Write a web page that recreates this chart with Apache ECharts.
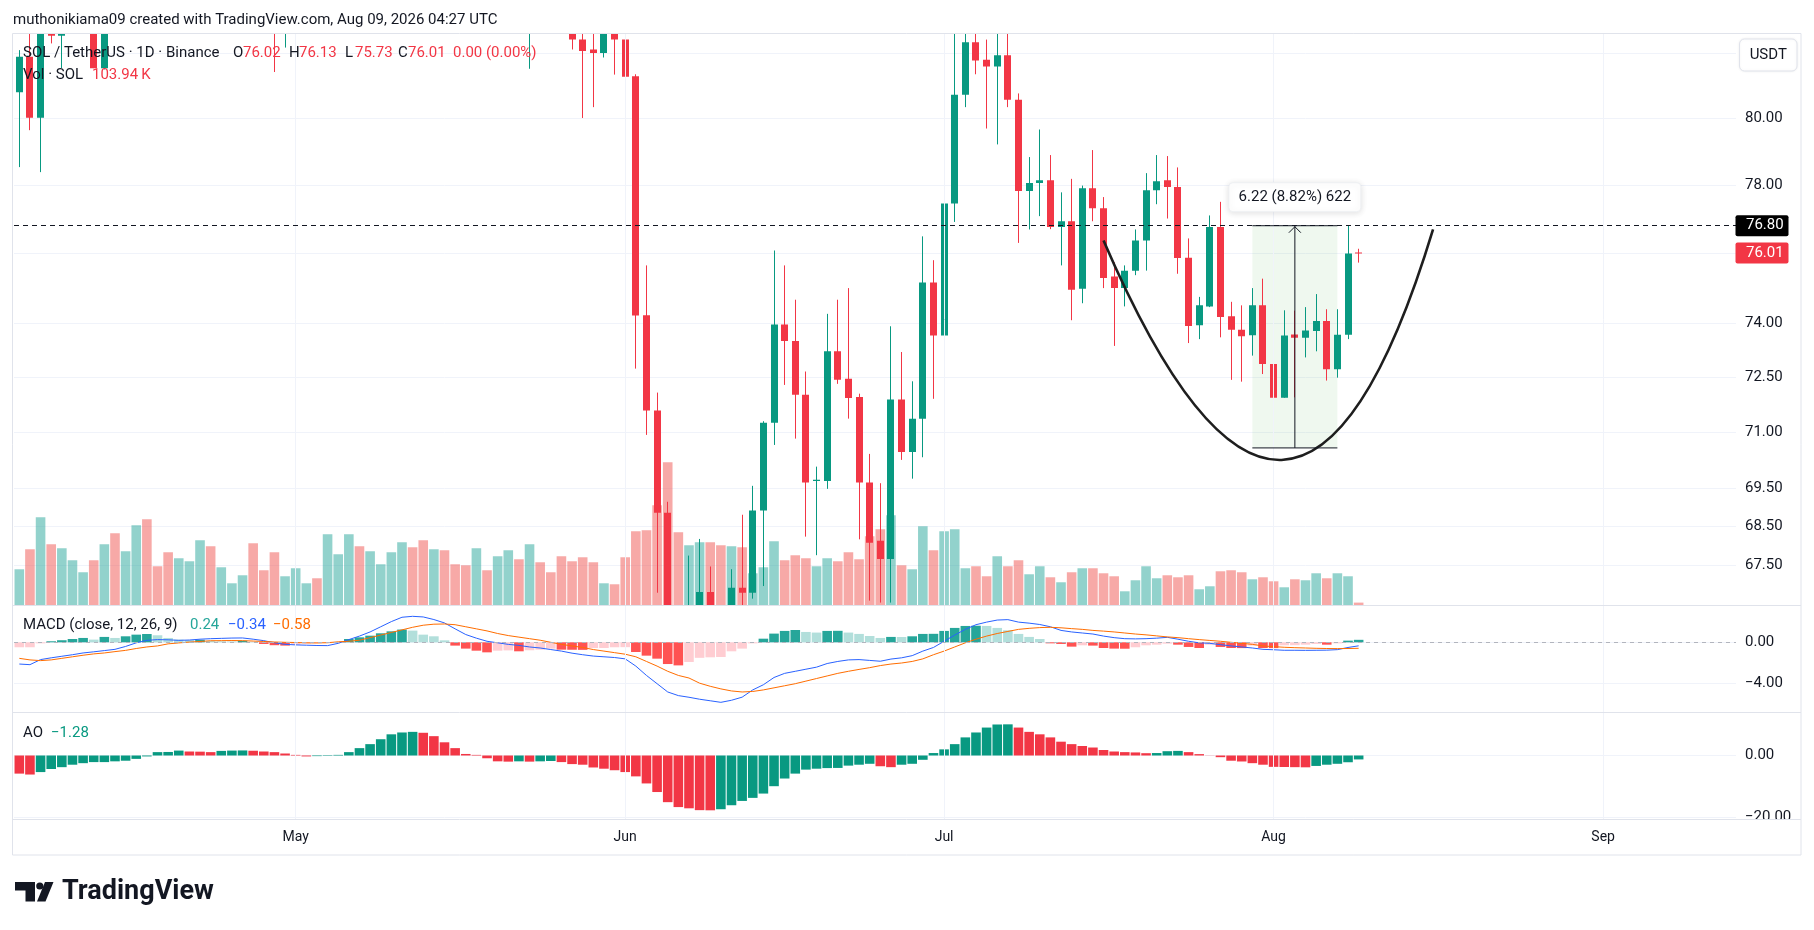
<!DOCTYPE html>
<html><head><meta charset="utf-8">
<script src="https://cdn.jsdelivr.net/npm/echarts@6/dist/echarts.min.js"></script>
<style>html,body{margin:0;padding:0;background:#fff}#c{width:1814px;height:930px}</style>
</head><body><div id="c"></div>
<script>
const FONT = 'Roboto, "Liberation Sans", sans-serif';
const TEXT = '#131722';
const UP = '#089981', DOWN = '#F23645';

// ---- axis: daily categories (Apr 5 .. Sep 13, 2026) ----
const firstDay = [2026, 3, 5];
const dayCount = 162;
const monthAbbr = ['Jan','Feb','Mar','Apr','May','Jun','Jul','Aug','Sep','Oct','Nov','Dec'];
const monthStarts = ['2026-05-01','2026-06-01','2026-07-01','2026-08-01','2026-09-01'];
const priceTicks = [82, 80, 78, 76, 74, 72.5, 71, 69.5, 68.5, 67.5];
const macdTicks = [0, -4];
const aoTicks = [0, -20];

// ---- SOL/USDT daily candles (Apr 5 .. Aug 9) ----
const openP = [80.80,81.89,80.02,83.20,82.55,83.60,84.30,84.90,81.54,83.40,
83.00,84.00,85.60,84.70,84.10,83.30,84.20,85.10,86.80,85.90,
86.50,87.00,87.70,86.10,85.20,84.00,85.00,86.20,86.80,86.30,
88.60,89.50,91.20,90.00,90.80,91.50,92.40,93.60,92.20,90.40,
91.00,89.60,88.70,87.90,88.80,87.60,88.30,89.00,87.40,87.90,
86.40,85.00,83.40,82.43,82.12,82.01,82.70,82.43,81.29,74.23,
71.59,68.86,65.90,65.20,65.90,66.82,66.20,65.70,66.93,66.80,
68.92,71.26,73.97,73.51,72.02,69.70,69.70,73.22,72.46,71.96,
69.66,68.13,67.66,71.89,70.47,71.37,75.16,73.66,77.45,80.72,
82.35,81.80,81.59,81.94,80.57,77.82,78.06,78.14,76.76,76.93,
74.98,77.90,77.31,75.33,75.00,75.50,76.37,77.84,78.14,77.94,
75.87,73.95,74.48,76.76,74.20,73.82,73.67,74.51,72.87,71.94,
73.69,73.60,73.79,74.07,72.72,73.68,76.02];
const highP = [82.10,83.40,83.80,83.90,84.00,84.80,85.40,85.20,83.90,84.10,
84.40,86.00,86.30,85.00,84.50,84.60,85.50,87.20,87.30,86.90,
87.40,88.10,88.00,86.40,85.60,85.30,86.60,87.10,87.20,89.00,
90.10,91.80,91.60,91.30,92.00,92.90,94.20,94.00,92.60,91.50,
91.30,90.00,89.10,89.20,89.10,88.70,89.40,89.30,88.30,88.20,
86.70,85.30,83.60,82.90,82.80,82.90,83.00,82.90,81.35,75.65,
72.08,69.15,66.35,67.75,68.18,67.47,66.45,67.40,68.81,69.57,
71.30,76.08,75.65,74.67,72.66,70.08,74.27,74.67,75.00,72.05,
70.42,69.64,73.92,73.20,72.39,76.49,75.80,78.93,82.90,82.90,
82.90,82.43,82.90,82.90,80.76,78.83,79.66,78.89,77.78,78.18,
77.98,79.04,77.64,75.74,75.65,76.69,78.35,78.89,78.86,78.52,
76.43,74.75,77.10,77.50,74.61,74.51,75.00,75.27,73.20,74.37,
74.36,74.46,74.83,74.40,74.40,76.80,76.13];
const lowP = [78.53,79.64,78.38,82.31,81.54,83.10,83.90,81.54,81.50,82.70,
82.80,83.70,84.30,83.80,82.90,83.00,83.90,84.90,85.50,85.60,
86.10,86.70,85.80,84.80,81.42,82.18,84.60,85.90,85.90,86.10,
88.10,89.20,89.60,89.70,90.40,91.10,92.00,91.80,90.00,90.00,
89.20,88.20,87.40,87.60,87.20,87.30,88.00,87.00,81.52,86.00,
84.60,83.00,82.12,80.01,80.34,81.87,81.34,79.11,72.74,70.93,
66.80,65.40,64.70,64.90,65.50,65.70,65.20,65.40,66.30,66.65,
66.97,70.66,72.29,70.83,68.24,67.76,69.49,72.32,71.37,68.17,
66.60,66.55,66.55,70.26,69.76,70.33,71.91,72.26,76.91,80.34,
81.35,79.69,79.21,80.34,76.30,76.69,77.08,76.70,75.65,74.09,
74.57,76.93,75.00,73.37,74.48,75.37,75.50,77.43,77.01,75.41,
73.45,73.56,74.46,73.61,72.43,72.38,73.10,72.59,70.58,71.94,
71.95,73.05,73.22,72.41,72.49,73.56,75.73];
const closeP = [81.89,80.02,83.20,82.55,83.60,84.30,84.90,81.54,83.40,83.00,
84.00,85.60,84.70,84.10,83.30,84.20,85.10,86.80,85.90,86.50,
87.00,87.70,86.10,85.20,84.00,85.00,86.20,86.80,86.30,88.60,
89.50,91.20,90.00,90.80,91.50,92.40,93.60,92.20,90.40,91.00,
89.60,88.70,87.90,88.80,87.60,88.30,89.00,87.40,87.90,86.40,
85.00,83.40,82.43,82.07,82.01,82.70,82.43,81.27,74.22,71.59,
68.86,65.90,65.20,65.90,66.82,66.20,65.70,66.93,66.80,68.92,
71.26,73.97,73.51,72.02,69.66,69.73,73.22,72.43,71.93,69.66,
68.08,67.66,71.89,70.47,71.37,75.16,73.66,77.45,80.72,82.35,
81.78,81.59,81.94,80.57,77.82,78.06,78.14,76.76,76.93,74.95,
77.90,77.31,75.29,75.00,75.50,76.37,77.84,78.11,77.94,75.86,
73.93,74.51,76.76,74.18,73.82,73.64,74.51,72.87,71.94,73.66,
73.60,73.80,74.07,72.72,73.68,75.99,76.01];
// volume, thousands of SOL
const volumeK = [1386,2156,3388,2349,2195,1733,1271,1733,2349,2772,
2079,3080,3311,1502,2041,1810,1694,2503,2272,1463,
847,1155,2387,1348,2041,1117,1425,847,1040,2734,
1964,2734,2272,2079,1579,2041,2426,2233,2503,2156,
2118,1579,1540,2195,1348,1887,2118,1771,2349,1656,
1271,1887,1694,1848,1656,847,809,1848,2849,2888,
3850,5506,2811,2310,2426,2426,2310,2272,2233,1232,
1463,2464,1733,1925,1810,1502,1810,1694,2041,1771,
2657,2926,3465,1540,1386,3042,2118,2849,2926,1425,
1502,1117,1887,1502,1733,1194,1502,1078,886,1271,
1425,1425,1232,1117,539,963,1502,1040,1155,1078,
1155,616,732,1309,1348,1271,1001,1078,924,693,
1001,963,1232,1040,1232,1117,103.94];
// MACD (close, 12, 26, 9)
const macdLine = [-2.10,-2.16,-1.67,-1.50,-1.35,-1.20,-1.03,-0.92,-0.80,-0.68,
-0.40,-0.05,0.19,0.26,0.24,0.19,0.22,0.30,0.35,0.38,
0.41,0.42,0.30,0.16,-0.05,-0.20,-0.25,-0.28,-0.31,-0.32,
-0.10,0.26,0.60,1.00,1.50,2.00,2.42,2.51,2.45,2.20,
1.87,1.30,0.75,0.40,0.10,-0.05,-0.20,-0.30,-0.45,-0.55,
-0.70,-0.85,-1.05,-1.20,-1.33,-1.40,-1.47,-1.60,-2.30,-3.20,
-4.00,-4.80,-5.15,-5.31,-5.50,-5.65,-5.80,-5.60,-5.30,-4.60,
-4.10,-3.40,-3.00,-2.80,-2.60,-2.40,-2.05,-1.85,-1.70,-1.67,
-1.75,-1.83,-1.62,-1.50,-1.29,-0.85,-0.50,0.10,0.70,1.25,
1.70,1.95,2.15,2.19,1.95,1.85,1.72,1.50,1.15,1.00,
0.90,0.80,0.60,0.45,0.35,0.33,0.35,0.40,0.48,0.30,
0.10,-0.05,-0.10,-0.23,-0.35,-0.45,-0.55,-0.68,-0.72,-0.77,
-0.77,-0.78,-0.77,-0.76,-0.71,-0.50,-0.34];
const signalLine = [-1.55,-1.70,-1.77,-1.70,-1.55,-1.40,-1.25,-1.12,-1.03,-0.90,
-0.78,-0.60,-0.45,-0.35,-0.15,-0.06,0.02,0.08,0.15,0.16,
0.17,0.16,0.12,0.08,0.03,0.00,-0.02,-0.05,-0.06,-0.04,
0.05,0.10,0.20,0.45,0.70,0.95,1.20,1.45,1.65,1.75,
1.77,1.70,1.50,1.30,1.10,0.85,0.65,0.50,0.35,0.20,
0.00,-0.20,-0.35,-0.50,-0.70,-0.85,-1.00,-1.15,-1.40,-1.85,
-2.30,-2.80,-3.20,-3.45,-3.95,-4.25,-4.50,-4.70,-4.80,-4.75,
-4.60,-4.40,-4.20,-4.00,-3.75,-3.50,-3.25,-3.00,-2.80,-2.62,
-2.45,-2.25,-2.10,-2.00,-1.85,-1.60,-1.20,-0.85,-0.45,-0.05,
0.30,0.60,0.85,1.05,1.25,1.35,1.42,1.45,1.40,1.32,
1.25,1.15,1.08,1.00,0.90,0.80,0.72,0.62,0.52,0.45,
0.35,0.26,0.18,0.10,0.00,-0.10,-0.20,-0.35,-0.42,-0.48,
-0.52,-0.55,-0.58,-0.60,-0.61,-0.60,-0.58];
const macdHist = [-0.48,-0.48,-0.10,0.10,0.20,0.32,0.42,0.26,0.52,0.42,
0.58,0.74,0.80,0.68,0.42,0.26,0.22,0.24,0.14,0.10,
0.08,0.15,0.05,-0.16,-0.28,-0.32,-0.23,-0.13,-0.10,-0.08,
-0.02,0.32,0.48,0.64,0.87,1.06,1.23,1.13,0.74,0.58,
0.19,-0.32,-0.61,-0.81,-0.97,-0.81,-0.78,-0.87,-0.77,-0.71,
-0.61,-0.71,-0.72,-0.73,-0.55,-0.55,-0.48,-0.47,-0.94,-1.29,
-1.58,-2.10,-2.23,-1.90,-1.50,-1.45,-1.42,-0.87,-0.61,-0.10,
0.35,0.84,1.10,1.19,1.00,0.94,1.10,1.11,0.94,0.81,
0.61,0.42,0.52,0.51,0.58,0.81,0.82,1.10,1.39,1.58,
1.60,1.58,1.39,1.16,0.81,0.52,0.32,-0.10,-0.16,-0.42,
-0.29,-0.32,-0.55,-0.61,-0.62,-0.48,-0.29,-0.23,-0.13,-0.23,
-0.45,-0.55,-0.23,-0.45,-0.55,-0.56,-0.32,-0.55,-0.56,-0.29,
-0.28,-0.23,-0.16,-0.23,-0.10,0.16,0.24];
// Awesome Oscillator
const aoValues = [-5.9,-6.2,-5.4,-4.4,-3.8,-3.0,-2.5,-2.15,-2.15,-1.9,
-1.7,-1.1,-0.3,1.1,1.15,1.6,1.3,1.25,1.1,1.5,
1.6,1.65,1.55,1.3,1.1,0.65,0.2,-0.3,-0.2,-0.15,
0.2,1.1,2.4,3.7,5.3,6.9,7.5,7.7,7.4,6.3,
4.3,2.4,0.5,0.2,-0.9,-1.9,-2.0,-1.9,-2.0,-1.9,
-1.8,-2.15,-2.8,-3.0,-3.9,-4.3,-4.8,-5.4,-6.8,-9.1,
-11.9,-15.2,-16.8,-17.2,-17.8,-17.85,-17.5,-16.2,-14.8,-13.8,
-12.4,-10.0,-7.5,-5.9,-4.6,-4.3,-4.1,-4.05,-3.3,-3.0,
-2.7,-3.5,-3.8,-3.0,-2.7,-1.4,0.8,2.0,3.7,5.9,
7.5,9.1,10.1,10.15,9.1,7.7,6.9,5.9,4.5,3.7,
3.1,2.6,1.8,1.3,1.1,1.0,0.75,0.8,1.4,1.5,
1.1,0.45,-0.05,-0.55,-1.7,-1.95,-2.5,-3.0,-3.7,-3.75,
-3.8,-3.85,-3.4,-3.0,-2.7,-2.2,-1.28];

// ---- drawings ----
const hLineLevel = 76.80;
const rangeTool = {from:'2026-07-30', to:'2026-08-07', mid:'2026-08-03', low:70.58, high:76.80, label:'6.22 (8.82%) 622'};
const cupCurve = {start:['2026-07-16', 76.37], control:['2026-08-03', 64.5], end:['2026-08-16', 76.69]};

// ---- build ----
const dates = [];
for (let i = 0; i < dayCount; i++) {
  const d = new Date(Date.UTC(firstDay[0], firstDay[1], firstDay[2] + i));
  dates.push(d.toISOString().slice(0, 10));
}
const ln = Math.log;
const candleData = openP.map((o, i) => [i, ln(o), ln(closeP[i]), ln(lowP[i]), ln(highP[i])]);
const volData = volumeK.map((v, i) => ({value: v, itemStyle: {color: closeP[i] >= openP[i] ? 'rgba(38,166,154,0.5)' : 'rgba(239,83,80,0.5)'}}));
const histData = macdHist.map((v, i) => {
  const p = i > 0 ? macdHist[i - 1] : undefined;
  let c;
  if (v >= 0) c = (p !== undefined && v > p) ? '#26A69A' : '#B2DFDB';
  else c = (p !== undefined && v < p) ? '#FF5252' : '#FFCDD2';
  return {value: v, itemStyle: {color: c}};
});
const aoData = aoValues.map((v, i) => ({value: v, itemStyle: {color: (i > 0 && v >= aoValues[i - 1]) ? UP : DOWN}}));

const fmtNum = v => (v < -1e-9 ? '\u2212' : '') + Math.abs(v).toFixed(2);
const GRIDC = '#f0f3fa';
const vLines = {symbol: ['none', 'none'], silent: true, label: {show: false}, animation: false,
  lineStyle: {color: GRIDC, width: 1, type: 'solid'}, data: monthStarts.map(m => ({xAxis: m}))};

// candle drawn from open/close/low/high through the axis scales; clipped to the pane
function renderCandle(params, api) {
  const i = api.value(0);
  const o = api.value(1), c = api.value(2), lo = api.value(3), hi = api.value(4);
  const pO = api.coord([i, o]), pC = api.coord([i, c]), pL = api.coord([i, lo]), pH = api.coord([i, hi]);
  const color = c >= o ? UP : DOWN;
  const bx = Math.round(pO[0] - 3.5);
  const cx = bx + 3.5;
  const top = Math.min(pO[1], pC[1]);
  const h = Math.max(Math.abs(pO[1] - pC[1]), 1);
  return {type: 'group', children: [
    {type: 'line', shape: {x1: cx, y1: pH[1], x2: cx, y2: pL[1]}, style: {stroke: color, lineWidth: 1}},
    {type: 'rect', shape: {x: bx, y: top, width: 7, height: h}, style: {fill: color}}
  ]};
}

const L = 14, R = 78;
const xBase = (gi, showLabel) => ({
  type: 'category', gridIndex: gi, data: dates, boundaryGap: true,
  axisLine: {show: false}, axisTick: {show: false}, splitLine: {show: false},
  axisLabel: showLabel ? {show: true, interval: (i, v) => v.slice(8) === '01',
    formatter: v => monthAbbr[+v.slice(5, 7) - 1], color: TEXT, fontSize: 14, fontFamily: FONT, margin: 11} : {show: false}
});
const yRight = (gi, min, max, ticks, fmt) => ({
  type: 'value', gridIndex: gi, position: 'right', min, max, scale: true,
  axisLine: {show: false},
  axisTick: {show: false, customValues: ticks},
  axisLabel: {show: true, customValues: ticks, formatter: fmt, color: TEXT, fontSize: 15, fontFamily: FONT, margin: 9},
  splitLine: {show: true, lineStyle: {color: GRIDC, width: 1}}
});

const option = {
  animation: false,
  backgroundColor: '#ffffff',
  textStyle: {fontFamily: FONT},
  grid: [
    {left: L, right: R, top: 33.5, height: 571.8, outerBoundsMode: 'none'},
    {left: L, right: R, top: 605.3, height: 107, outerBoundsMode: 'none'},
    {left: L, right: R, top: 712.3, height: 107, outerBoundsMode: 'none'}
  ],
  xAxis: [xBase(0, false), xBase(1, false), xBase(2, true)],
  yAxis: [
    yRight(0, 4.19693, 4.41426, priceTicks.map(ln), v => Math.exp(v).toFixed(2)),
    {type: 'value', gridIndex: 0, min: 0, max: 22000, show: false, splitLine: {show: false}},
    yRight(1, -6.763, 3.575, macdTicks, fmtNum),
    yRight(2, -20.78, 14.07, aoTicks, fmtNum)
  ],
  series: [
    {type: 'bar', name: 'Volume', xAxisIndex: 0, yAxisIndex: 1, data: volData, barWidth: 9.6, z: 1,
     markLine: vLines},
    {type: 'custom', name: 'SOLUSDT', xAxisIndex: 0, yAxisIndex: 0, data: candleData, clip: true, z: 3,
     renderItem: renderCandle, encode: {x: 0, y: [1, 2, 3, 4]}, silent: true,
     markLine: {symbol: ['none', 'none'], silent: true, label: {show: false}, animation: false, precision: 10,
       lineStyle: {color: TEXT, width: 1, type: [5, 4]}, data: [{yAxis: ln(hLineLevel)}]}},
    {type: 'bar', name: 'Histogram', xAxisIndex: 1, yAxisIndex: 2, data: histData, barWidth: 9.6, z: 2,
     markLine: {symbol: ['none', 'none'], silent: true, label: {show: false}, animation: false,
       data: monthStarts.map(m => ({xAxis: m, lineStyle: {color: GRIDC, width: 1, type: 'solid'}}))
         .concat([{yAxis: 0, lineStyle: {color: '#b2b5be', width: 1, type: [4, 4]}}])}},
    {type: 'line', name: 'MACD', xAxisIndex: 1, yAxisIndex: 2, data: macdLine, showSymbol: false, z: 4,
     lineStyle: {color: '#2962FF', width: 1}},
    {type: 'line', name: 'Signal', xAxisIndex: 1, yAxisIndex: 2, data: signalLine, showSymbol: false, z: 4,
     lineStyle: {color: '#FF6D00', width: 1}},
    {type: 'bar', name: 'AO', xAxisIndex: 2, yAxisIndex: 3, data: aoData, barWidth: 9.6, z: 2,
     markLine: vLines}
  ]
};

const chart = echarts.init(document.getElementById('c'), null, {renderer: 'canvas'});
chart.setOption(option);

// ---- overlay drawings positioned through the chart's own scales ----
const P = (cat, price) => chart.convertToPixel({xAxisIndex: 0, yAxisIndex: 0}, [cat, ln(price)]);
const txt = (x, y, text, fill, size, weight, align) => ({
  type: 'text', x, y, z: 100, silent: true,
  style: {text, fill, font: `${weight || 'normal'} ${size || 15}px ${FONT}`, align: align || 'left', textAlign: align || 'left', verticalAlign: 'middle', textVerticalAlign: 'middle'}
});
const line = (x1, y1, x2, y2, stroke, w, z) => ({type: 'line', z: z || 100, silent: true, shape: {x1, y1, x2, y2}, style: {stroke, lineWidth: w || 1}});

const g = [];
// header
g.push(txt(13, 20, 'muthonikiama09 created with TradingView.com, Aug 09, 2026 04:27 UTC', TEXT, 15));
// frame and pane separators
const FR = '#e0e3eb';
g.push({type: 'rect', z: 90, silent: true, shape: {x: 12.5, y: 33.5, width: 1788.5, height: 821.5}, style: {fill: 'none', stroke: FR, lineWidth: 1}});
[605.5, 712.5, 819.5].forEach(y => g.push(line(12.5, y, 1801, y, FR, 1, 90)));

// range tool
const rTopL = P(rangeTool.from, rangeTool.high), rBotR = P(rangeTool.to, rangeTool.low);
const rMidT = P(rangeTool.mid, rangeTool.high), rMidB = P(rangeTool.mid, rangeTool.low);
g.push({type: 'rect', z: 1, silent: true, shape: {x: rTopL[0], y: rTopL[1], width: rBotR[0] - rTopL[0], height: rBotR[1] - rTopL[1]},
  style: {fill: 'rgba(76,175,80,0.09)'}});
g.push(line(rTopL[0], rTopL[1], rBotR[0], rTopL[1], TEXT, 1, 60));
g.push(line(rTopL[0], rBotR[1], rBotR[0], rBotR[1], TEXT, 1, 60));
g.push(line(rMidT[0], rMidT[1], rMidB[0], rMidB[1], TEXT, 1, 60));
g.push({type: 'polyline', z: 60, silent: true, shape: {points: [[rMidT[0] - 6, rMidT[1] + 7], [rMidT[0], rMidT[1] + 1], [rMidT[0] + 6, rMidT[1] + 7]]},
  style: {stroke: TEXT, lineWidth: 1, fill: 'none'}});
g.push({type: 'rect', z: 95, silent: true, shape: {x: rMidT[0] - 66, y: rMidT[1] - 43, width: 132, height: 29, r: 4},
  style: {fill: '#ffffff', stroke: '#eef0f3', lineWidth: 1, shadowBlur: 6, shadowColor: 'rgba(0,0,0,0.12)', shadowOffsetY: 1}});
g.push(txt(rMidT[0], rMidT[1] - 28.5, rangeTool.label, TEXT, 15, 'normal', 'center'));

// cup curve
const c0 = P(...cupCurve.start), c1 = P(...cupCurve.control), c2 = P(...cupCurve.end);
g.push({type: 'bezierCurve', z: 50, silent: true, shape: {x1: c0[0], y1: c0[1], cpx1: c1[0], cpy1: c1[1], x2: c2[0], y2: c2[1]},
  style: {stroke: '#1e1e1e', lineWidth: 2.6, fill: 'none'}});

// legends
const lastI = closeP.length - 1;
g.push(txt(23, 53, 'SOL / TetherUS \u00b7 1D \u00b7 Binance', TEXT, 15));
[[233, 'O', openP[lastI]], [289, 'H', highP[lastI]], [345, 'L', lowP[lastI]], [398, 'C', closeP[lastI]]].forEach(([x, k, v]) => {
  g.push(txt(x, 53, k, TEXT, 15));
  g.push(txt(x + 10, 53, v.toFixed(2), DOWN, 15));
});
g.push(txt(453, 53, '0.00 (0.00%)', DOWN, 15));
g.push(txt(23, 75, 'Vol \u00b7 SOL', TEXT, 15));
g.push(txt(92, 75, volumeK[lastI].toFixed(2) + '\u2009K', DOWN, 15));
g.push(txt(23, 625.5, 'MACD (close, 12, 26, 9)', TEXT, 15));
g.push(txt(190, 625.5, fmtNum(macdHist[lastI]), '#26A69A', 15));
g.push(txt(228, 625.5, fmtNum(macdLine[lastI]), '#2962FF', 15));
g.push(txt(273, 625.5, fmtNum(signalLine[lastI]), '#FF6D00', 15));
g.push(txt(23, 733, 'AO', TEXT, 15));
g.push(txt(51, 733, fmtNum(aoValues[lastI]), UP, 15));

// price scale boxes
g.push({type: 'rect', z: 100, silent: true, shape: {x: 1739.5, y: 39, width: 57.5, height: 32, r: 5},
  style: {fill: '#ffffff', stroke: FR, lineWidth: 1, shadowBlur: 3, shadowColor: 'rgba(0,0,0,0.06)'}});
g.push(txt(1768.25, 55, 'USDT', TEXT, 15, 'normal', 'center'));
const yH = P(dates[0], hLineLevel)[1];
g.push({type: 'rect', z: 100, silent: true, shape: {x: 1735.5, y: yH - 10.5, width: 53, height: 21, r: 2}, style: {fill: '#000000'}});
g.push(txt(1746, yH, hLineLevel.toFixed(2), '#ffffff', 15));
const yC = P(dates[0], closeP[lastI])[1];
g.push({type: 'rect', z: 100, silent: true, shape: {x: 1735.5, y: yC - 10.5, width: 53, height: 21, r: 2}, style: {fill: DOWN}});
g.push(txt(1746, yC, closeP[lastI].toFixed(2), '#ffffff', 15));
// AO lowest label is cut by the time scale
g.push({type: 'rect', z: 100, silent: true, shape: {x: 1737, y: 820, width: 63, height: 12}, style: {fill: '#ffffff'}});

// TradingView logo
g.push({type: 'polygon', z: 100, silent: true, shape: {points: [[15, 882], [35, 882], [35, 901.5], [25.5, 901.5], [25.5, 890.5], [15, 890.5]]}, style: {fill: TEXT}});
g.push({type: 'circle', z: 100, silent: true, shape: {cx: 39.8, cy: 886, r: 3.6}, style: {fill: TEXT}});
g.push({type: 'polygon', z: 100, silent: true, shape: {points: [[45, 882], [53.5, 882], [45.5, 901.5], [37, 901.5]]}, style: {fill: TEXT}});
g.push(txt(62, 892, 'TradingView', TEXT, 27, 'bold'));

chart.setOption({graphic: g});
</script>
</body></html>
